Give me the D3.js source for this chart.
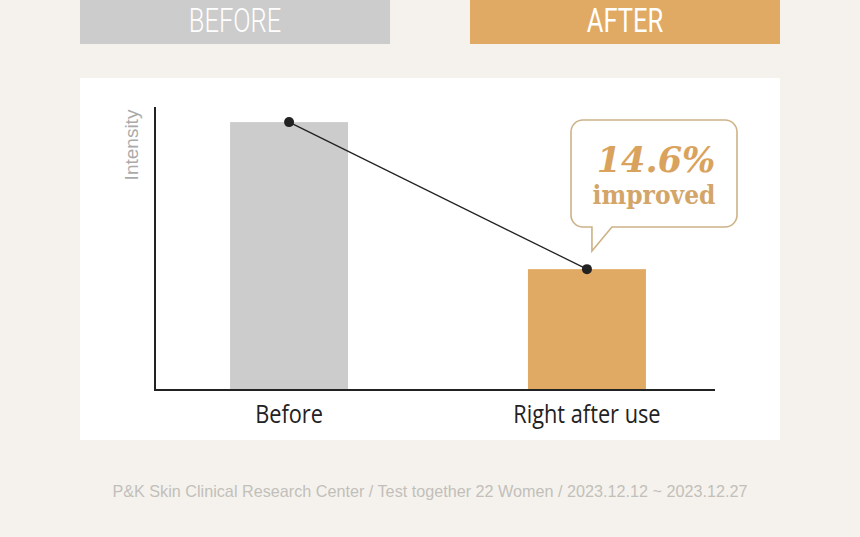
<!DOCTYPE html>
<html>
<head>
<meta charset="utf-8">
<script src="https://cdn.jsdelivr.net/npm/d3@7"></script>
<style>
  body { margin: 0; background: #f5f2ed; }
  svg { display: block; }
</style>
</head>
<body>
<svg id="chart" width="860" height="537"></svg>
<script>
const categories = ['Before', 'Right after use']
const values = [100, 85.4]
const headers = ['BEFORE', 'AFTER']
const improvement = '14.6%'
const footnote = 'P&K Skin Clinical Research Center / Test together 22 Women / 2023.12.12 ~ 2023.12.27'

const svg = d3.select('#chart')
const barColors = ['#cccccc', '#e0aa64']

// header tabs
const tab = d3.scaleBand().domain(headers).range([80, 780]).paddingInner(0.205)
svg.selectAll('rect.tab')
  .data(headers)
  .enter().append('rect')
  .attr('x', (d) => tab(d))
  .attr('y', 0)
  .attr('width', tab.bandwidth())
  .attr('height', 44)
  .style('fill', (d, i) => barColors[i])
svg.selectAll('text.tab')
  .data(headers)
  .enter().append('text')
  .attr('transform', (d) => `translate(${tab(d) + tab.bandwidth() / 2}, 32) scale(0.75, 1)`)
  .attr('text-anchor', 'middle')
  .style('font-family', 'Roboto')
  .style('font-weight', (d, i) => i ? 400 : 300)
  .style('font-size', '34px')
  .style('fill', '#fff')
  .text((d) => d)

// white panel
svg.append('rect')
  .attr('x', 80).attr('y', 78)
  .attr('width', 700).attr('height', 362)
  .style('fill', '#fff')

const x = d3.scaleBand().domain(categories).range([155, 721]).paddingInner(0.604).paddingOuter(0.252)
const y = d3.scaleLinear().domain([73.4, 101.5]).range([390, 107])

const g = svg.append('g')

g.selectAll('rect.bar')
  .data(values)
  .enter().append('rect')
  .attr('x', (d, i) => x(categories[i]))
  .attr('y', (d) => y(d))
  .attr('width', x.bandwidth())
  .attr('height', (d) => y.range()[0] - y(d))
  .style('fill', (d, i) => barColors[i])

// axes
g.append('line')
  .attr('x1', 155).attr('x2', 155)
  .attr('y1', y.range()[1]).attr('y2', y.range()[0])
  .style('stroke', '#222').style('stroke-width', 2)
g.append('line')
  .attr('x1', 154).attr('x2', 715)
  .attr('y1', y.range()[0]).attr('y2', y.range()[0])
  .style('stroke', '#222').style('stroke-width', 2)

g.append('text')
  .attr('transform', 'translate(138, 145) rotate(-90)')
  .attr('text-anchor', 'middle')
  .style('font-family', 'Liberation Sans, Arial, sans-serif')
  .style('font-size', '19px')
  .style('fill', '#aaa')
  .text('Intensity')

g.selectAll('text.cat')
  .data(categories)
  .enter().append('text')
  .attr('transform', (d) => `translate(${x(d) + x.bandwidth() / 2}, 423) scale(0.87, 1)`)
  .attr('text-anchor', 'middle')
  .style('font-family', 'Open Sans')
  .style('font-size', '25px')
  .style('fill', '#222')
  .text((d) => d)

// connecting line and points
const cx = (d, i) => x(categories[i]) + x.bandwidth() / 2
const line = d3.line().x(cx).y((d) => y(d))
g.append('path')
  .datum(values)
  .attr('d', line)
  .style('fill', 'none')
  .style('stroke', '#222')
  .style('stroke-width', 1.3)
g.selectAll('circle')
  .data(values)
  .enter().append('circle')
  .attr('cx', cx)
  .attr('cy', (d) => y(d))
  .attr('r', 5)
  .style('fill', '#222')

// callout bubble
const bx = 571, by = 120, bw = 166, bh = 107, r = 12
const tipX = cx(values[1], 1) + 5
const bubble = d3.path()
bubble.moveTo(bx + r, by)
bubble.lineTo(bx + bw - r, by)
bubble.arcTo(bx + bw, by, bx + bw, by + r, r)
bubble.lineTo(bx + bw, by + bh - r)
bubble.arcTo(bx + bw, by + bh, bx + bw - r, by + bh, r)
bubble.lineTo(tipX + 20, by + bh)
bubble.lineTo(tipX, 251)
bubble.lineTo(tipX, by + bh)
bubble.lineTo(bx + r, by + bh)
bubble.arcTo(bx, by + bh, bx, by + bh - r, r)
bubble.lineTo(bx, by + r)
bubble.arcTo(bx, by, bx + r, by, r)
bubble.closePath()
svg.append('path')
  .attr('d', bubble.toString())
  .style('fill', '#fff')
  .style('stroke', '#cdb288')
  .style('stroke-width', 1.6)

svg.append('text')
  .attr('x', bx + bw / 2 + 2)
  .attr('y', 172)
  .attr('text-anchor', 'middle')
  .style('font-family', 'DejaVu Serif')
  .style('font-weight', 'bold')
  .style('font-style', 'italic')
  .style('font-size', '35px')
  .style('fill', '#d9a35e')
  .text(improvement)
svg.append('text')
  .attr('x', bx + bw / 2)
  .attr('y', 204)
  .attr('text-anchor', 'middle')
  .style('font-family', 'DejaVu Serif')
  .style('font-weight', 'bold')
  .style('font-stretch', 'condensed')
  .style('font-size', '26px')
  .style('fill', '#d3a569')
  .text('improved')

svg.append('text')
  .attr('x', 430)
  .attr('y', 497)
  .attr('text-anchor', 'middle')
  .style('font-family', 'Liberation Sans, Arial, sans-serif')
  .style('font-size', '16.2px')
  .style('fill', '#c2bfba')
  .text(footnote)
</script>
</body>
</html>
